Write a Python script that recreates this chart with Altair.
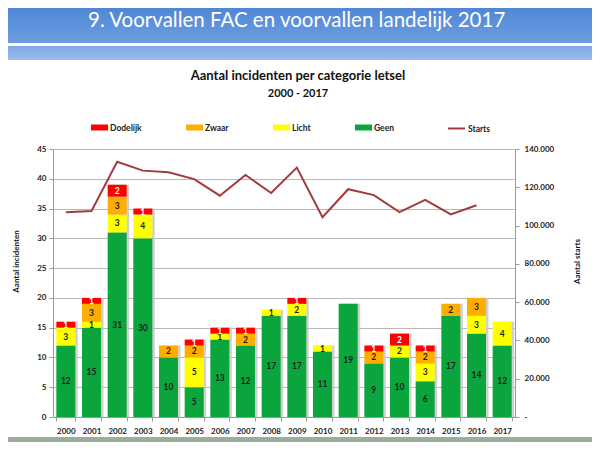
import altair as alt
import pandas as pd

years = [str(y) for y in range(2000, 2018)]
geen = [12, 15, 31, 30, 10, 5, 13, 12, 17, 17, 11, 19, 9, 10, 6, 17, 14, 12]
licht = [3, 1, 3, 4, 0, 5, 1, 0, 1, 2, 1, 0, 0, 2, 3, 0, 3, 4]
zwaar = [0, 3, 3, 0, 2, 2, 0, 2, 0, 0, 0, 0, 2, 0, 2, 2, 3, 0]
dodelijk = [1, 1, 2, 1, 0, 1, 1, 1, 0, 1, 0, 0, 1, 2, 1, 0, 0, 0]
starts = [107000, 107600, 133300, 128700, 127900, 124300, 115600, 126400, 117000,
          130300, 104400, 119000, 115900, 107000, 113400, 105800, 110600, None]

categories = ["Dodelijk", "Zwaar", "Licht", "Geen"]
cat_colors = ["#ff0000", "#ffae00", "#ffff00", "#0aa53c"]
stack_order = {"Geen": 0, "Licht": 1, "Zwaar": 2, "Dodelijk": 3}
series = {"Geen": geen, "Licht": licht, "Zwaar": zwaar, "Dodelijk": dodelijk}

rows = []
for cat, vals in series.items():
    for yr, v in zip(years, vals):
        rows.append({"year": yr, "cat": cat, "value": v, "ord": stack_order[cat]})
df = pd.DataFrame(rows)

df_starts = pd.DataFrame({"year": years, "starts": starts, "s": "Starts"}).dropna()

FONT = "Lato"

x_axis = alt.Axis(
    title=None, labelAngle=0, tickBand="extent", grid=False,
    domainColor="#9a9a9a", tickColor="#9a9a9a", tickSize=4,
    labelFont=FONT, labelFontWeight="bold", labelFontSize=8,
    labelColor="#222222", labelPadding=6,
)
x_scale = alt.Scale(paddingInner=0.26, paddingOuter=0.13)


def x_enc():
    return alt.X("year:N", sort=years, scale=x_scale, axis=x_axis)


y_scale = alt.Scale(domain=[0, 45], nice=False)
y_axis = alt.Axis(
    title="Aantal incidenten", values=list(range(0, 50, 5)),
    labelOverlap=False,
    grid=True, gridColor="#b8b8b8", gridWidth=1,
    domainColor="#9a9a9a", tickColor="#9a9a9a", tickSize=4,
    labelFont=FONT, labelFontWeight="bold", labelFontSize=8,
    labelColor="#222222", labelPadding=3,
    titleFont=FONT, titleFontWeight="bold", titleFontSize=8,
    titleColor="#111111", titleX=-37, titleY=112,
    titleBaseline="middle",
)

stacked = alt.Chart(df).transform_stack(
    stack="value", as_=["y0", "y1"], groupby=["year"],
    sort=[alt.SortField("ord", order="ascending")],
)

shadow = alt.Chart(df).transform_aggregate(
    total="sum(value)", groupby=["year"]
).mark_bar(color="#c4c4c4", xOffset=2.5, opacity=0.8).encode(
    x=x_enc(),
    y=alt.Y("total:Q", scale=y_scale, axis=y_axis),
)

bars = stacked.mark_bar(stroke=None).encode(
    x=x_enc(),
    y=alt.Y("y0:Q", scale=y_scale, axis=y_axis),
    y2="y1:Q",
    color=alt.Color(
        "cat:N",
        scale=alt.Scale(domain=categories, range=cat_colors),
        legend=alt.Legend(
            title=None, orient="none", legendX=38, legendY=-30,
            direction="horizontal", gridAlign="none", columnPadding=44,
            symbolType="M-1,-0.35H1V0.35H-1Z", symbolSize=289,
            symbolStrokeWidth=0, labelOffset=2,
            labelFont=FONT, labelFontWeight="bold", labelFontSize=8.5,
            labelColor="#222222",
        ),
    ),
)

texts = stacked.transform_calculate(
    mid="(datum.y0 + datum.y1) / 2"
).transform_filter("datum.value > 0").mark_text(
    font=FONT, fontWeight="bold", fontSize=8.5, baseline="middle",
).encode(
    x=x_enc(),
    y=alt.Y("mid:Q", scale=y_scale, axis=y_axis),
    text="value:Q",
    color=alt.condition("datum.cat == 'Dodelijk'", alt.value("white"), alt.value("#1e1e1e")),
)

line = alt.Chart(df_starts).mark_line(strokeWidth=2).encode(
    x=x_enc(),
    y=alt.Y(
        "starts:Q",
        scale=alt.Scale(domain=[0, 140000], nice=False),
        axis=alt.Axis(
            orient="right", title="Aantal starts",
            values=list(range(0, 140001, 20000)), grid=False,
            labelOverlap=False,
            labelExpr="datum.value == 0 ? '-' : replace(format(datum.value, ','), ',', '.')",
            domainColor="#9a9a9a", tickColor="#9a9a9a", tickSize=4,
            labelFont=FONT, labelFontWeight="bold", labelFontSize=8,
            labelColor="#222222", labelPadding=5,
            titleFont=FONT, titleFontWeight="bold", titleFontSize=8,
            titleColor="#111111", titleX=62, titleY=112, titleAngle=270,
            titleBaseline="middle",
        ),
    ),
    stroke=alt.Stroke(
        "s:N",
        scale=alt.Scale(domain=["Starts"], range=["#a33b3c"]),
        legend=alt.Legend(
            title=None, orient="none", legendX=394, legendY=-30,
            symbolType="stroke", symbolSize=289, symbolStrokeWidth=2,
            labelOffset=2, labelFont=FONT, labelFontWeight="bold",
            labelFontSize=8.5, labelColor="#222222",
        ),
    ),
)

one = pd.DataFrame({"a": [1]})

header = alt.Chart(one).mark_rect(
    color=alt.Gradient(
        gradient="linear", x1=0, x2=0, y1=0, y2=1,
        stops=[alt.GradientStop(color="#4f86d5", offset=0),
               alt.GradientStop(color="#6d9ee2", offset=1)],
    )
).encode(x=alt.value(-45), x2=alt.value(539), y=alt.value(-141), y2=alt.value(-106))

band = alt.Chart(one).mark_rect(
    color=alt.Gradient(
        gradient="linear", x1=0, x2=0, y1=0, y2=1,
        stops=[alt.GradientStop(color="#7ea8e4", offset=0),
               alt.GradientStop(color="#9bbcec", offset=1)],
    )
).encode(x=alt.value(-45), x2=alt.value(539), y=alt.value(-103), y2=alt.value(-89))

footer = alt.Chart(one).mark_rect(color="#9aae9b").encode(
    x=alt.value(-45), x2=alt.value(539), y=alt.value(288), y2=alt.value(293)
)

slide_title = alt.Chart(one).mark_text(
    text="9. Voorvallen FAC en voorvallen landelijk 2017",
    font=FONT, fontSize=20.5, color="white", align="left", baseline="middle",
).encode(x=alt.value(35), y=alt.value(-128))

chart_title = alt.Chart(one).mark_text(
    text="Aantal incidenten per categorie letsel",
    font=FONT, fontSize=13, fontWeight="bold", color="#111111",
    align="center", baseline="middle",
).encode(x=alt.value(245), y=alt.value(-73))

chart_sub = alt.Chart(one).mark_text(
    text="2000 - 2017",
    font=FONT, fontSize=11, fontWeight="bold", color="#111111",
    align="center", baseline="middle",
).encode(x=alt.value(245), y=alt.value(-55))

inner = alt.layer(shadow, bars, texts)

chart = alt.layer(
    header, band, footer, slide_title, chart_title, chart_sub, inner, line
).resolve_scale(
    y="independent", color="independent"
).properties(
    width=462, height=268,
    autosize=alt.AutoSizeParams(type="none"),
    padding={"left": 45, "top": 141, "right": 77, "bottom": 25},
    background="white",
).configure_view(stroke=None)

chart.save("out.html", embed_options={"renderer": "svg", "actions": False})
